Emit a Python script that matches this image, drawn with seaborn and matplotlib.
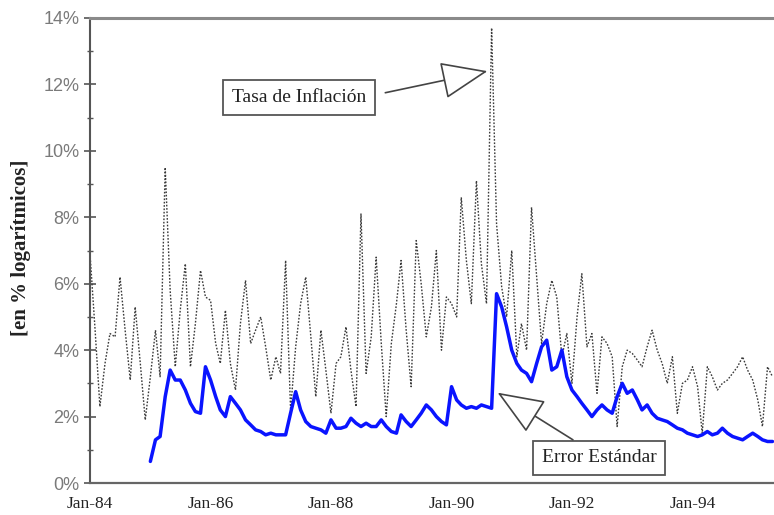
import numpy as np
import pandas as pd
import matplotlib
matplotlib.use("Agg")
import matplotlib.pyplot as plt
import matplotlib.dates as mdates
from matplotlib.ticker import MultipleLocator, FuncFormatter
import seaborn as sns

# ---------------- data (monthly, in % logarithmic) ----------------
inflation_start = "1984-01-01"
inflacion = [
    6.9, 4.6, 2.3, 3.6, 4.5, 4.4, 6.2, 4.6, 3.1, 5.3, 3.6, 1.9,   # 1984
    3.2, 4.6, 3.2, 9.5, 5.8, 3.5, 5.2, 6.6, 3.5, 4.8, 6.4, 5.6,   # 1985
    5.5, 4.2, 3.6, 5.2, 3.6, 2.8, 4.8, 6.1, 4.2, 4.6, 5.0, 4.1,   # 1986
    3.1, 3.8, 3.3, 6.7, 2.2, 4.1, 5.4, 6.2, 4.4, 2.6, 4.6, 3.4,   # 1987
    2.1, 3.6, 3.8, 4.7, 3.4, 2.3, 8.1, 3.3, 4.4, 6.8, 4.2, 2.0,   # 1988
    4.2, 5.4, 6.7, 4.6, 2.9, 7.3, 6.0, 4.4, 5.3, 7.0, 4.0, 5.6,   # 1989
    5.4, 5.0, 8.6, 6.7, 5.4, 9.1, 6.6, 5.4, 13.7, 7.8, 5.9, 5.0,  # 1990
    7.0, 3.8, 4.8, 4.0, 8.3, 6.2, 4.2, 5.4, 6.1, 5.6, 3.8, 4.5,   # 1991
    3.0, 5.0, 6.3, 4.1, 4.5, 2.7, 4.4, 4.2, 3.8, 1.7, 3.5, 4.0,   # 1992
    3.9, 3.7, 3.5, 4.1, 4.6, 4.0, 3.6, 3.0, 3.8, 2.1, 3.0, 3.1,   # 1993
    3.5, 2.9, 1.5, 3.5, 3.2, 2.8, 3.0, 3.1, 3.3, 3.5, 3.8, 3.4,   # 1994
    3.1, 2.5, 1.7, 3.5, 3.2,                                       # 1995
]

error_start = "1985-01-01"
error_estandar = [
    0.65, 1.3, 1.4, 2.6, 3.4, 3.1, 3.1, 2.8, 2.4, 2.15, 2.1, 3.5,        # 1985
    3.1, 2.6, 2.2, 2.0, 2.6, 2.4, 2.2, 1.9, 1.75, 1.6, 1.55, 1.45,       # 1986
    1.5, 1.45, 1.45, 1.45, 2.1, 2.75, 2.2, 1.85, 1.7, 1.65, 1.6, 1.5,    # 1987
    1.9, 1.65, 1.65, 1.7, 1.95, 1.8, 1.7, 1.8, 1.7, 1.7, 1.9, 1.7,       # 1988
    1.55, 1.5, 2.05, 1.85, 1.7, 1.9, 2.1, 2.35, 2.2, 2.0, 1.85, 1.75,    # 1989
    2.9, 2.5, 2.35, 2.25, 2.3, 2.25, 2.35, 2.3, 2.25, 5.7, 5.3, 4.7,     # 1990
    4.0, 3.6, 3.4, 3.3, 3.05, 3.6, 4.1, 4.3, 3.4, 3.5, 4.0, 3.2,         # 1991
    2.8, 2.6, 2.4, 2.2, 2.0, 2.2, 2.35, 2.2, 2.1, 2.6, 3.0, 2.7,         # 1992
    2.8, 2.5, 2.2, 2.35, 2.1, 1.95, 1.9, 1.85, 1.75, 1.65, 1.6, 1.5,     # 1993
    1.45, 1.4, 1.45, 1.55, 1.45, 1.5, 1.65, 1.5, 1.4, 1.35, 1.3, 1.4,    # 1994
    1.5, 1.4, 1.3, 1.25, 1.25,                                          # 1995
]

y_ticks = [0, 2, 4, 6, 8, 10, 12, 14]
label_inflacion = "Tasa de Inflación"
label_error = "Error Estándar"
y_label = "[en % logarítmicos]"

df_inf = pd.DataFrame({
    "fecha": pd.date_range(inflation_start, periods=len(inflacion), freq="MS"),
    "valor": inflacion,
})
df_err = pd.DataFrame({
    "fecha": pd.date_range(error_start, periods=len(error_estandar), freq="MS"),
    "valor": error_estandar,
})

# ---------------- style ----------------
sns.set_style("white")
plt.rcParams["font.family"] = ["Liberation Serif", "DejaVu Serif"]

fig = plt.figure(figsize=(7.74, 5.15), dpi=100)
ax = fig.add_axes([90 / 774, 1 - 483 / 515, 1 - 90 / 774, (483 - 18) / 515])

sns.lineplot(data=df_inf, x="fecha", y="valor", ax=ax, color="#3a3a3a",
             linewidth=1.0, linestyle=(0, (1.2, 1.2)))
sns.lineplot(data=df_err, x="fecha", y="valor", ax=ax, color="#0a14ff",
             linewidth=2.5)

def month_pos(m):
    base = pd.Timestamp(inflation_start)
    whole = int(np.floor(m))
    d = base + pd.DateOffset(months=whole)
    return mdates.date2num(d) + (m - whole) * 30.44

ax.set_xlim(month_pos(0), month_pos(136.3))
ax.set_ylim(0, 14)

# ticks
ax.xaxis.set_major_locator(mdates.YearLocator(2))
ax.xaxis.set_major_formatter(mdates.DateFormatter("Jan-%y"))
ax.set_yticks(y_ticks)
ax.yaxis.set_minor_locator(MultipleLocator(1))
ax.yaxis.set_major_formatter(FuncFormatter(lambda v, p: f"{v:.0f}%"))
ax.tick_params(axis="x", length=0, labelsize=12.5, pad=9, labelcolor="#222222")
ax.tick_params(axis="y", which="major", direction="inout", length=9, width=1.2,
               color="#555555", left=True, labelsize=13, labelcolor="#7a7a7a", pad=3)
ax.tick_params(axis="y", which="minor", direction="inout", length=5, width=1.0,
               color="#555555", left=True)
for lab in ax.get_yticklabels():
    lab.set_fontfamily(["Liberation Sans", "DejaVu Sans"])

ax.set_xlabel("")
ax.set_ylabel(y_label, fontsize=15, fontweight="bold", color="#222222")
ax.yaxis.set_label_coords(-0.086, 0.505)

ax.spines["right"].set_visible(False)
ax.spines["top"].set_color("#8a8a8a")
ax.spines["top"].set_linewidth(2.2)
ax.spines["left"].set_color("#555555")
ax.spines["left"].set_linewidth(1.5)
ax.spines["bottom"].set_color("#666666")
ax.spines["bottom"].set_linewidth(1.6)

# annotations
box = dict(boxstyle="square,pad=0.45", fc="white", ec="#555555", lw=1.3)
ax.text(month_pos(41.6), 11.6, label_inflacion, fontsize=14, ha="center",
        va="center", color="#222222", bbox=box, zorder=5)
ax.text(month_pos(101.4), 0.76, label_error, fontsize=14, ha="center",
        va="center", color="#222222", bbox=box, zorder=5)

arrow = dict(arrowstyle="-|>,head_length=1.5,head_width=0.6", fc="white",
             ec="#444444", lw=1.2, shrinkA=0, shrinkB=0, mutation_scale=20)
ax.annotate("", xy=(month_pos(79.2), 12.4), xytext=(month_pos(58.8), 11.75),
            arrowprops=arrow, zorder=6)
ax.annotate("", xy=(month_pos(81.2), 2.72), xytext=(month_pos(96.2), 1.3),
            arrowprops=arrow, zorder=6)

fig.savefig("out.png", dpi=100)
